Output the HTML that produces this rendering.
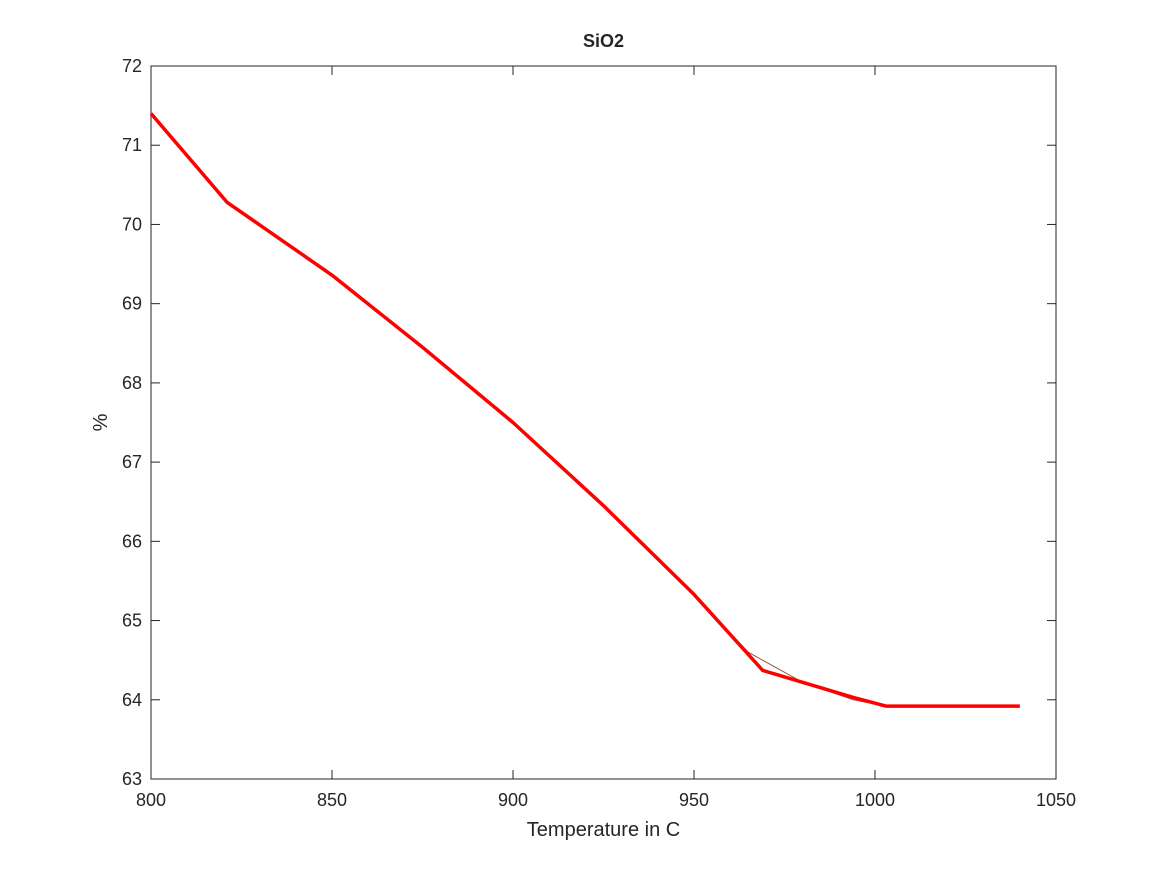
<!DOCTYPE html>
<html><head><meta charset="utf-8"><style>
body{margin:0;background:#fff;}
svg text{font-family:"Liberation Sans",sans-serif;fill:#262626;}
</style></head><body>
<svg id="chart" width="1167" height="875">
<rect x="0" y="0" width="1167" height="875" fill="#fff"/>
<g id="axes"></g>
<g id="series"></g>
</svg>
<script>
const xTicks=[800,850,900,950,1000,1050];
const yTicks=[63,64,65,66,67,68,69,70,71,72];
const tempX=[800,821,850,875,900,925,950,969,994,1003,1040];
const sio2Y=[71.4,70.28,69.36,68.45,67.5,66.45,65.33,64.37,64.03,63.92,63.92];
const smoothX=[800,821,850,875,900,925,950,965,980,994,1003,1040];
const smoothY=[71.4,70.28,69.36,68.45,67.5,66.45,65.33,64.6,64.22,64.0,63.92,63.92];
const L=151,R=1056,T=66,B=779;
const sx=v=>L+(v-800)/(1050-800)*(R-L);
const sy=v=>B-(v-63)/(72-63)*(B-T);
const NS='http://www.w3.org/2000/svg';
const ax=document.getElementById('axes'),se=document.getElementById('series');
function mk(p,tag,at,txt){const e=document.createElementNS(NS,tag);for(const k in at)e.setAttribute(k,at[k]);if(txt!==undefined)e.textContent=txt;p.appendChild(e);return e;}
let f=mk(ax,'rect',{x:L,y:T,width:R-L,height:B-T,fill:'#fff',stroke:'#262626','stroke-width':1});


xTicks.forEach(v=>{const x=sx(v);
mk(ax,'line',{x1:x,y1:B,x2:x,y2:B-9,stroke:'#262626'});
mk(ax,'line',{x1:x,y1:T,x2:x,y2:T+9,stroke:'#262626'});
const t=mk(ax,'text',{x:x,y:B+27,'font-size':18,'text-anchor':'middle'},v);

});
yTicks.forEach(v=>{const y=sy(v);
mk(ax,'line',{x1:L,y1:y,x2:L+9,y2:y,stroke:'#262626'});
mk(ax,'line',{x1:R,y1:y,x2:R-9,y2:y,stroke:'#262626'});
const t=mk(ax,'text',{x:L-9,y:y+6,'font-size':18,'text-anchor':'end'},v);

});
let xt=mk(ax,'text',{x:(L+R)/2,y:836,'font-size':20,'text-anchor':'middle'},'Temperature in C');


let yt=mk(ax,'text',{x:0,y:0,'font-size':20,'text-anchor':'middle',transform:`translate(107,${(T+B)/2}) rotate(-90)`},'%');


let tt=mk(ax,'text',{x:(L+R)/2,y:47,'font-size':18,'font-weight':'bold','text-anchor':'middle'},'SiO2');


let s1=mk(se,'polyline',{points:smoothX.map((x,i)=>sx(x)+','+sy(smoothY[i])).join(' '),fill:'none',stroke:'#a0522d','stroke-width':1});


let s2=mk(se,'polyline',{points:tempX.map((x,i)=>sx(x)+','+sy(sio2Y[i])).join(' '),fill:'none',stroke:'#ff0000','stroke-width':3.5,'stroke-linejoin':'round'});


</script>
</body></html>
